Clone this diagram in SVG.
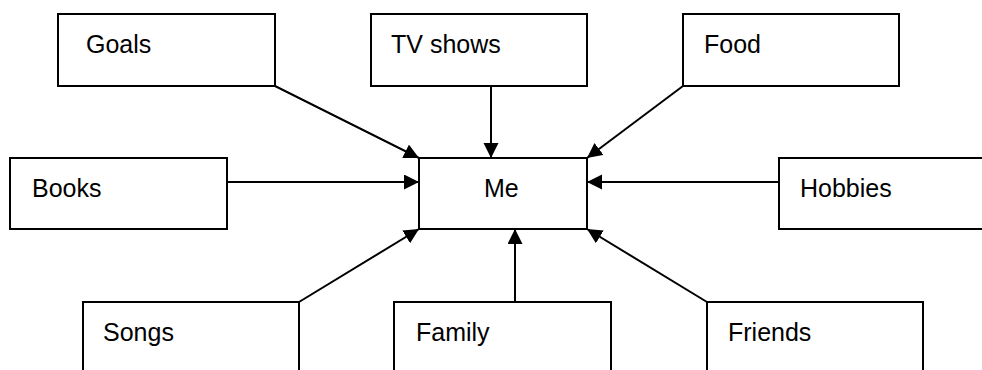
<svg xmlns="http://www.w3.org/2000/svg" width="982" height="370" viewBox="0 0 982 370">
<style>
.box{fill:#fff;stroke:#000;stroke-width:2}
.lbl{font-family:"Liberation Sans",Arial,sans-serif;font-size:25px;fill:#000}
.con{stroke:#000;stroke-width:2;fill:none;marker-end:url(#ah)}
</style>
<defs>
<marker id="ah" markerUnits="userSpaceOnUse" markerWidth="16" markerHeight="16" refX="15" refY="7.5" orient="auto" viewBox="0 0 16 16">
<path d="M0,0 L15,7.5 L0,15 Z" fill="#000"/>
</marker>
</defs>
<rect width="982" height="370" fill="#fff"/>
<g id="connectors">
<line class="con" x1="275" y1="86" x2="419" y2="158"/>
<line class="con" x1="491" y1="86" x2="491" y2="158"/>
<line class="con" x1="683" y1="86" x2="587" y2="158"/>
<line class="con" x1="227" y1="182" x2="419" y2="182"/>
<line class="con" x1="779" y1="182" x2="587" y2="182"/>
<line class="con" x1="299" y1="302" x2="419" y2="229"/>
<line class="con" x1="515" y1="302" x2="515" y2="229"/>
<line class="con" x1="707" y1="302" x2="587" y2="229"/>
</g>
<g id="goals"><rect class="box" x="58" y="14" width="217" height="72"/><text class="lbl" x="86" y="53">Goals</text></g>
<g id="tvshows"><rect class="box" x="371" y="14" width="216" height="72"/><text class="lbl" x="391" y="53">TV shows</text></g>
<g id="food"><rect class="box" x="683" y="14" width="216" height="72"/><text class="lbl" x="704" y="53">Food</text></g>
<g id="books"><rect class="box" x="10" y="158" width="217" height="71"/><text class="lbl" x="32" y="197">Books</text></g>
<g id="me"><rect class="box" x="419" y="158" width="168" height="71"/><text class="lbl" x="484" y="197">Me</text></g>
<g id="hobbies"><rect class="box" x="779" y="158" width="217" height="71"/><text class="lbl" x="800" y="197">Hobbies</text></g>
<g id="songs"><rect class="box" x="83" y="302" width="216" height="80"/><text class="lbl" x="103" y="341">Songs</text></g>
<g id="family"><rect class="box" x="394" y="302" width="217" height="80"/><text class="lbl" x="416" y="341">Family</text></g>
<g id="friends"><rect class="box" x="707" y="302" width="216" height="80"/><text class="lbl" x="728" y="341">Friends</text></g>
</svg>
